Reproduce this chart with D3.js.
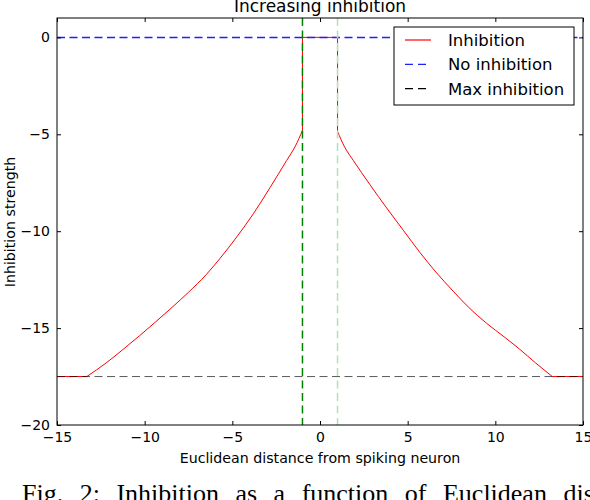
<!DOCTYPE html>
<html lang="en">
<head>
<meta charset="UTF-8">
<title>Increasing inhibition</title>
<script src="https://cdn.jsdelivr.net/npm/d3@7"></script>
<style>
  body { margin: 0; background: #fff; }
  text { font-family: "DejaVu Sans", sans-serif; }
</style>
</head>
<body>
<script>
// values
var leftDistance = [-13.3, -12.2, -11.3, -10.3, -9.4, -8.4, -7.5, -6.5, -5.7, -4.75, -3.8, -2.85, -1.9, -1.4, -1.0];
var leftInhibition = [-17.5, -16.8, -16.15, -15.4, -14.7, -13.9, -13.15, -12.25, -11.4, -10.3, -9.1, -7.75, -6.35, -5.6, -4.8];
var rightDistance = [1.0, 1.4, 1.9, 2.85, 3.8, 4.75, 5.7, 6.6, 7.6, 8.5, 9.5, 10.5, 11.4, 12.3, 13.25];
var rightInhibition = [-4.85, -5.65, -6.35, -7.6, -8.8, -9.95, -11.1, -12.1, -13.1, -13.95, -14.75, -15.45, -16.1, -16.8, -17.5];
var peakDistance = [-1.0, -1.0, 1.0, 1.0];
var peakInhibition = [-4.8, 0, 0, -4.85];
var tailDistance = [-15, -13.3, 13.25, 15];
var tailInhibition = [-17.5, -17.5, -17.5, -17.5];
var noInhibition = 0;
var maxInhibition = -17.5;
var cutoffs = [-1, 1];
var xTicks = [-15, -10, -5, 0, 5, 10, 15];
var yTicks = [0, -5, -10, -15, -20];
var legendLabels = ["Inhibition", "No inhibition", "Max inhibition"];

var width = 590, height = 500;
var plotLeft = 57, plotRight = 583, plotTop = 18, plotBottom = 425;

var svg = d3.select("body").append("svg")
    .attr("width", width)
    .attr("height", height);

var x = d3.scaleLinear().domain([-15, 15]).range([plotLeft, plotRight]);
var y = d3.scaleLinear().domain([-20, 1]).range([plotBottom, plotTop]);

var plot = svg.append("g");

// red inhibition curve: two smooth arms, the flat peak and the flat tails
var pieces = [
    { xs: leftDistance, ys: leftInhibition, curve: d3.curveMonotoneX },
    { xs: rightDistance, ys: rightInhibition, curve: d3.curveMonotoneX },
    { xs: peakDistance, ys: peakInhibition, curve: d3.curveLinear },
    { xs: tailDistance.slice(0, 2), ys: tailInhibition.slice(0, 2), curve: d3.curveLinear },
    { xs: tailDistance.slice(2), ys: tailInhibition.slice(2), curve: d3.curveLinear }
];
pieces.forEach(function(a) {
    var line = d3.line()
        .x(function(d, i) { return x(a.xs[i]); })
        .y(function(d) { return y(d); })
        .curve(a.curve);
    plot.append("path")
        .datum(a.ys)
        .attr("d", line)
        .attr("fill", "none")
        .attr("stroke", "#ff0000")
        .attr("stroke-width", 1);
});

// reference lines
plot.append("line")
    .attr("x1", x(-15)).attr("x2", x(15))
    .attr("y1", Math.round(y(noInhibition)) + 0.5).attr("y2", Math.round(y(noInhibition)) + 0.5)
    .attr("stroke", "#1f1fff").attr("stroke-width", 1.5)
    .attr("stroke-dasharray", "8,4.5");

plot.append("line")
    .attr("x1", x(-15)).attr("x2", x(15))
    .attr("y1", y(maxInhibition)).attr("y2", y(maxInhibition))
    .attr("stroke", "#000").attr("stroke-opacity", 0.65).attr("stroke-width", 1)
    .attr("stroke-dasharray", "8,4.5");

plot.selectAll(".cut")
    .data(cutoffs)
    .enter().append("line")
    .attr("class", "cut")
    .attr("x1", function(d) { return x(d); })
    .attr("x2", function(d) { return x(d); })
    .attr("y1", y(1)).attr("y2", y(-20))
    .attr("stroke", function(d, i) { return i == 0 ? "#008000" : "#b4e0b4"; })
    .attr("stroke-width", 1.5)
    .attr("stroke-dasharray", "8,4.5");

// axes, ticks pointing inward on all four sides
function styleAxis(g) {
    g.select(".domain").remove();
    g.selectAll("line").attr("stroke", "#000");
    g.selectAll("text")
        .attr("fill", "#000")
        .style("font-family", "'DejaVu Sans', sans-serif")
        .style("font-size", "14px");
}

svg.append("g")
    .attr("transform", "translate(0," + plotBottom + ")")
    .call(d3.axisBottom(x).tickValues(xTicks).tickSizeInner(-4).tickSizeOuter(0).tickPadding(7))
    .call(styleAxis);
svg.append("g")
    .attr("transform", "translate(0," + plotTop + ")")
    .call(d3.axisTop(x).tickValues(xTicks).tickSizeInner(-4).tickSizeOuter(0).tickFormat(""))
    .call(styleAxis);
svg.append("g")
    .attr("transform", "translate(" + plotLeft + ",0)")
    .call(d3.axisLeft(y).tickValues(yTicks).tickSizeInner(-4).tickSizeOuter(0).tickPadding(7))
    .call(styleAxis);
svg.append("g")
    .attr("transform", "translate(" + plotRight + ",0)")
    .call(d3.axisRight(y).tickValues(yTicks).tickSizeInner(-4).tickSizeOuter(0).tickFormat(""))
    .call(styleAxis);

svg.append("rect")
    .attr("x", plotLeft).attr("y", plotTop)
    .attr("width", plotRight - plotLeft).attr("height", plotBottom - plotTop)
    .attr("fill", "none").attr("stroke", "#000").attr("stroke-width", 1);

// legend
var legend = svg.append("g").attr("transform", "translate(394,27)");
legend.append("rect")
    .attr("width", 180).attr("height", 78)
    .attr("fill", "#fff").attr("stroke", "#000").attr("stroke-width", 1);

var legendColors = ["#ff0000", "#1f1fff", "#000"];
var rows = legend.selectAll(".row")
    .data(legendLabels)
    .enter().append("g")
    .attr("transform", function(d, i) { return "translate(0," + (13 + i * 24.3) + ")"; });
rows.append("line")
    .attr("x1", 11).attr("x2", 37)
    .attr("stroke", function(d, i) { return legendColors[i]; })
    .attr("stroke-width", 1.2)
    .attr("stroke-dasharray", function(d, i) { return i == 0 ? null : "8,5"; });
rows.append("text")
    .attr("x", 54).attr("dy", "0.36em")
    .style("font-size", "16.5px")
    .text(function(d) { return d; });

// title and labels
svg.append("text")
    .attr("x", 320).attr("y", 12)
    .attr("text-anchor", "middle")
    .style("font-size", "17px")
    .text("Increasing inhibition");

svg.append("text")
    .attr("x", 320).attr("y", 463)
    .attr("text-anchor", "middle")
    .style("font-size", "14.2px")
    .text("Euclidean distance from spiking neuron");

svg.append("text")
    .attr("transform", "translate(15,222) rotate(-90)")
    .attr("text-anchor", "middle")
    .style("font-size", "14.2px")
    .text("Inhibition strength");

// figure caption, cut off by the frame
svg.append("text")
    .attr("x", 22).attr("y", 502)
    .style("font-family", "'Liberation Serif', serif")
    .style("font-size", "26px")
    .style("word-spacing", "10px")
    .text("Fig. 2: Inhibition as a function of Euclidean distance");
</script>
</body>
</html>
